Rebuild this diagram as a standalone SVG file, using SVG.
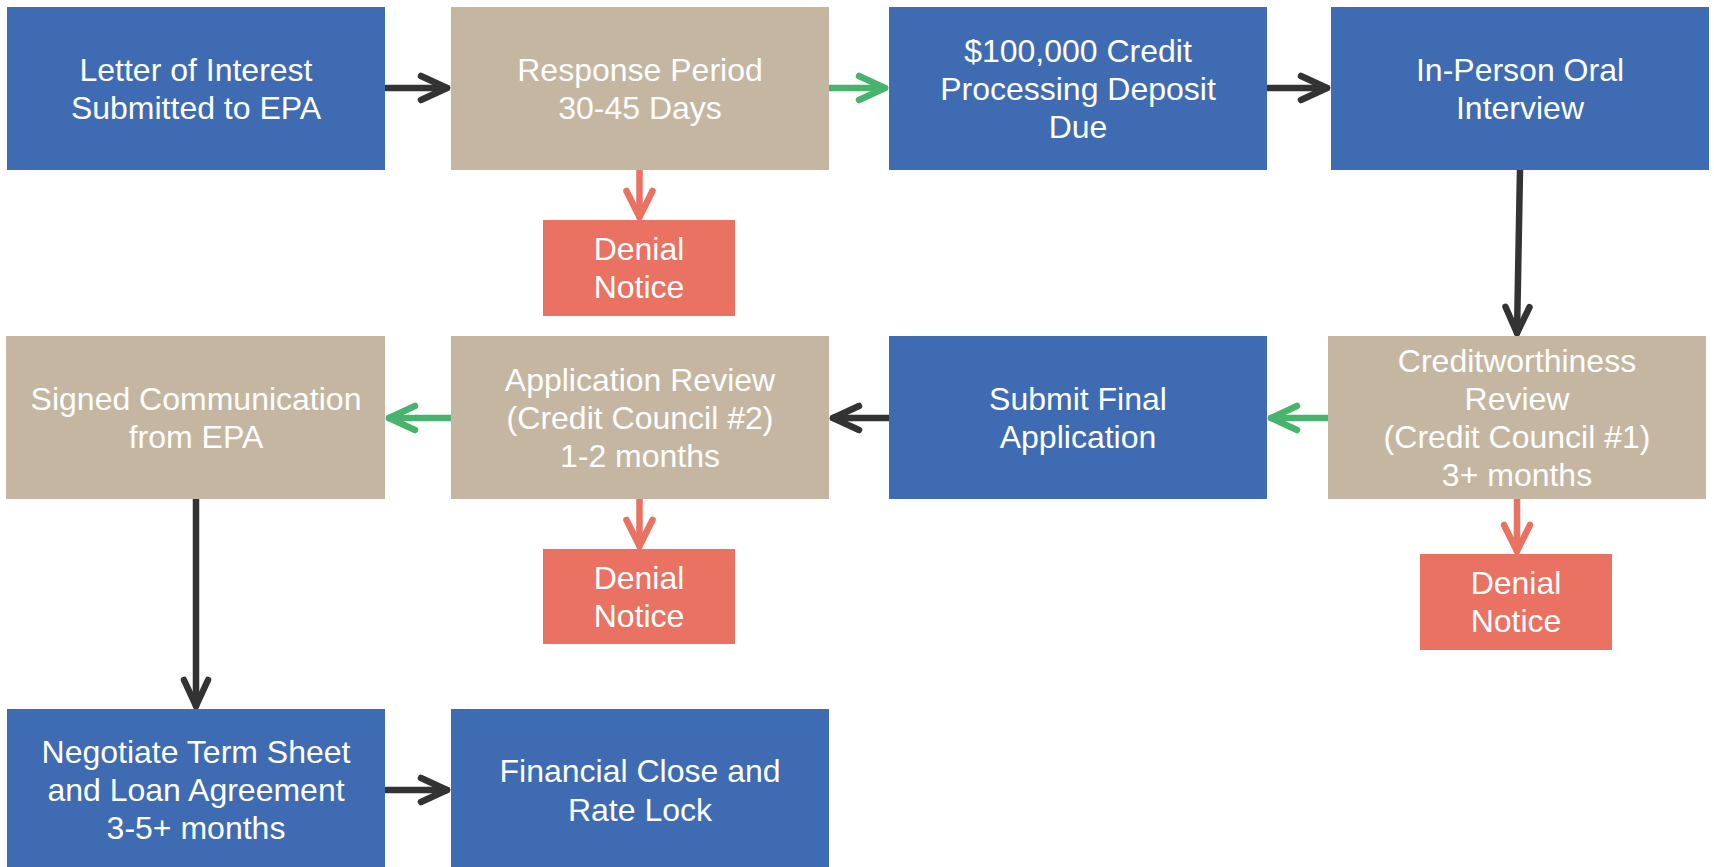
<svg xmlns="http://www.w3.org/2000/svg" width="1714" height="867" viewBox="0 0 1714 867">
<style>
.blue{fill:#3F6BB3}
.tan{fill:#C5B6A1}
.red{fill:#E97262}
text{font-family:"Liberation Sans",Arial,sans-serif;font-size:32px;fill:#FFFFFF;text-anchor:middle}
.c{fill:none;stroke-width:6.5;stroke-linecap:round;stroke-linejoin:round}
.dk{stroke:#333333}
.gr{stroke:#48B36D}
.rd{stroke:#E97262}
</style>
<defs>
<marker id="mdk" markerUnits="userSpaceOnUse" viewBox="-34 -18 40 36" refX="0" refY="0" markerWidth="40" markerHeight="36" orient="auto">
<path d="M-26,-12 L0,0 L-26,12" fill="none" stroke="#333333" stroke-width="6.5" stroke-linecap="round" stroke-linejoin="round"/>
</marker>
<marker id="mgr" markerUnits="userSpaceOnUse" viewBox="-34 -18 40 36" refX="0" refY="0" markerWidth="40" markerHeight="36" orient="auto">
<path d="M-26,-12 L0,0 L-26,12" fill="none" stroke="#48B36D" stroke-width="6.5" stroke-linecap="round" stroke-linejoin="round"/>
</marker>
<marker id="mrd" markerUnits="userSpaceOnUse" viewBox="-34 -18 40 36" refX="0" refY="0" markerWidth="40" markerHeight="36" orient="auto">
<path d="M-26,-13 L0,0 L-26,13" fill="none" stroke="#E97262" stroke-width="6.5" stroke-linecap="round" stroke-linejoin="round"/>
</marker>
</defs>
<rect width="1714" height="867" fill="#FFFFFF"/>

<g id="connectors">
<line class="c dk" x1="386" y1="88" x2="447" y2="88" marker-end="url(#mdk)"/>
<line class="c gr" x1="830" y1="88" x2="885" y2="88" marker-end="url(#mgr)"/>
<line class="c dk" x1="1267" y1="88" x2="1327" y2="88" marker-end="url(#mdk)"/>
<line class="c dk" x1="1520" y1="170" x2="1517" y2="333" marker-end="url(#mdk)"/>
<line class="c gr" x1="1327" y1="418" x2="1271" y2="418" marker-end="url(#mgr)"/>
<line class="c dk" x1="890" y1="418" x2="833" y2="418" marker-end="url(#mdk)"/>
<line class="c gr" x1="452" y1="418" x2="389" y2="418" marker-end="url(#mgr)"/>
<line class="c dk" x1="196" y1="499" x2="196" y2="706" marker-end="url(#mdk)"/>
<line class="c dk" x1="386" y1="790" x2="447" y2="790" marker-end="url(#mdk)"/>
<line class="c rd" x1="639.5" y1="168" x2="639.5" y2="217" marker-end="url(#mrd)"/>
<line class="c rd" x1="639.5" y1="497" x2="639.5" y2="546" marker-end="url(#mrd)"/>
<line class="c rd" x1="1517" y1="497" x2="1517" y2="551" marker-end="url(#mrd)"/>
</g>

<g id="n-letter">
<rect class="blue" x="7" y="7" width="378" height="163"/>
<text x="196" y="81">Letter of Interest</text>
<text x="196" y="119">Submitted to EPA</text>
</g>
<g id="n-response">
<rect class="tan" x="451" y="7" width="378" height="163"/>
<text x="640" y="81">Response Period</text>
<text x="640" y="119">30-45 Days</text>
</g>
<g id="n-deposit">
<rect class="blue" x="889" y="7" width="378" height="163"/>
<text x="1078" y="62">$100,000 Credit</text>
<text x="1078" y="100">Processing Deposit</text>
<text x="1078" y="138">Due</text>
</g>
<g id="n-interview">
<rect class="blue" x="1331" y="7" width="378" height="163"/>
<text x="1520" y="81">In-Person Oral</text>
<text x="1520" y="119">Interview</text>
</g>
<g id="n-denial1">
<rect class="red" x="543" y="220" width="192" height="96"/>
<text x="639" y="260">Denial</text>
<text x="639" y="298">Notice</text>
</g>
<g id="n-signed">
<rect class="tan" x="6" y="336" width="379" height="163"/>
<text x="196" y="410">Signed Communication</text>
<text x="196" y="448">from EPA</text>
</g>
<g id="n-appreview">
<rect class="tan" x="451" y="336" width="378" height="163"/>
<text x="640" y="391">Application Review</text>
<text x="640" y="429">(Credit Council #2)</text>
<text x="640" y="467">1-2 months</text>
</g>
<g id="n-submit">
<rect class="blue" x="889" y="336" width="378" height="163"/>
<text x="1078" y="410">Submit Final</text>
<text x="1078" y="448">Application</text>
</g>
<g id="n-credit">
<rect class="tan" x="1328" y="336" width="378" height="163"/>
<text x="1517" y="372">Creditworthiness</text>
<text x="1517" y="410">Review</text>
<text x="1517" y="448">(Credit Council #1)</text>
<text x="1517" y="486">3+ months</text>
</g>
<g id="n-denial2">
<rect class="red" x="543" y="549" width="192" height="95"/>
<text x="639" y="589">Denial</text>
<text x="639" y="627">Notice</text>
</g>
<g id="n-denial3">
<rect class="red" x="1420" y="554" width="192" height="96"/>
<text x="1516" y="594">Denial</text>
<text x="1516" y="632">Notice</text>
</g>
<g id="n-negotiate">
<rect class="blue" x="7" y="709" width="378" height="163"/>
<text x="196" y="763">Negotiate Term Sheet</text>
<text x="196" y="801">and Loan Agreement</text>
<text x="196" y="839">3-5+ months</text>
</g>
<g id="n-financial">
<rect class="blue" x="451" y="709" width="378" height="163"/>
<text x="640" y="782">Financial Close and</text>
<text x="640" y="821">Rate Lock</text>
</g>
</svg>
